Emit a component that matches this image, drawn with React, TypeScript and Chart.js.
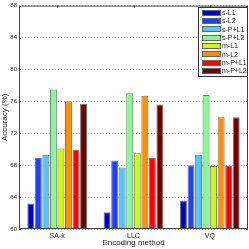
import React, { useEffect, useRef } from "react";
import { Chart, registerables } from "chart.js";

Chart.register(...registerables);

const categories = ["SA-k", "LLC", "VQ"];
const seriesNames = ["s-L1", "s-L2", "s-P+L1", "s-P+L2", "m-L1", "m-L2", "m-P+L1", "m-P+L2"];
const seriesColors = ["#0000c8", "#2040ff", "#50c8ff", "#80ff90", "#c8ff00", "#ff9000", "#ff0000", "#700000"];
const sL1 = [63.2, 62.1, 63.5];
const sL2 = [68.9, 68.6, 68.0];
const sPL1 = [69.3, 67.7, 69.3];
const sPL2 = [77.5, 77.0, 76.8];
const mL1 = [70.1, 69.5, 67.9];
const mL2 = [76.0, 76.7, 74.0];
const mPL1 = [69.9, 68.9, 67.9];
const mPL2 = [75.7, 75.6, 74.0];
const seriesValues = [sL1, sL2, sPL1, sPL2, mL1, mL2, mPL1, mPL2];
const yTicks = [60, 64, 68, 72, 76, 80, 84, 88];

const FONT = "'Liberation Sans', Arial, sans-serif";

const boxPlugin = {
  id: "boxPlugin",
  afterDraw(chart: any) {
    const { ctx, chartArea: a, scales } = chart;
    ctx.save();
    ctx.strokeStyle = "#444";
    ctx.lineWidth = 1;
    ctx.strokeRect(a.left + 0.5, a.top + 0.5, a.right - a.left - 1, a.bottom - a.top - 1);
    const ys = scales.y;
    yTicks.forEach((v) => {
      const y = Math.round(ys.getPixelForValue(v)) + 0.5;
      ctx.beginPath();
      ctx.moveTo(a.left, y);
      ctx.lineTo(a.left + 2, y);
      ctx.moveTo(a.right, y);
      ctx.lineTo(a.right - 2, y);
      ctx.stroke();
    });
    const xs = scales.x;
    categories.forEach((_, i) => {
      const x = Math.round(xs.getPixelForValue(i)) + 0.5;
      ctx.beginPath();
      ctx.moveTo(x, a.top);
      ctx.lineTo(x, a.top + 2);
      ctx.moveTo(x, a.bottom);
      ctx.lineTo(x, a.bottom - 2);
      ctx.stroke();
    });
    // legend
    const lx = 198, ly = 7, lw = 50, lh = 70;
    ctx.fillStyle = "#fff";
    ctx.fillRect(lx, ly, lw, lh);
    ctx.strokeStyle = "#333";
    ctx.strokeRect(lx + 0.5, ly + 0.5, lw - 1, lh - 1);
    ctx.font = "7px " + FONT;
    ctx.textBaseline = "middle";
    ctx.textAlign = "left";
    seriesNames.forEach((name, i) => {
      const cy = ly + 5.5 + i * 8.35;
      ctx.fillStyle = seriesColors[i];
      ctx.fillRect(202, Math.round(cy - 3), 19, 6);
      ctx.strokeStyle = "#666";
      ctx.strokeRect(202.5, Math.round(cy - 3) + 0.5, 18, 5);
      ctx.fillStyle = "#222";
      ctx.fillText(name, 222, cy + 0.5);
    });
    ctx.restore();
  },
};

export default function App() {
  const ref = useRef<HTMLCanvasElement>(null);
  useEffect(() => {
    document.body.style.margin = "0";
    const chart = new Chart(ref.current!, {
      type: "bar",
      data: {
        labels: categories,
        datasets: seriesNames.map((name, i) => ({
          label: name,
          data: seriesValues[i],
          backgroundColor: seriesColors[i],
          borderColor: "#777",
          borderWidth: 1,
          barPercentage: 0.92,
          categoryPercentage: 0.79,
        })),
      },
      options: {
        animation: false,
        responsive: false,
        maintainAspectRatio: false,
        layout: { padding: { top: 4, right: 1, left: 0, bottom: 0 } },
        plugins: { legend: { display: false }, tooltip: { enabled: false } },
        scales: {
          x: {
            grid: { display: false, drawTicks: false, tickLength: 0 },
            border: { display: false },
            ticks: { font: { size: 7, family: FONT }, color: "#222", padding: 3 },
            title: { display: true, text: "Encoding method", font: { size: 8, family: FONT }, color: "#222", padding: { top: 1, bottom: 1 } },
            afterFit: (s: any) => { s.height = 20; },
          },
          y: {
            min: 60,
            max: 88,
            afterBuildTicks: (s: any) => { s.ticks = yTicks.map((v) => ({ value: v })); },
            grid: { color: "#bbb", borderDash: [1, 2], drawTicks: false, tickLength: 0 } as any,
            border: { display: false, dash: [1, 2] },
            ticks: { font: { size: 6, family: FONT }, color: "#222", padding: 2 },
            title: { display: true, text: "Accuracy (%)", font: { size: 8, family: FONT }, color: "#222", padding: 0 },
            afterFit: (s: any) => { s.width = 19; },
          },
        },
      },
      plugins: [boxPlugin],
    });
    return () => chart.destroy();
  }, []);
  return <canvas ref={ref} width={249} height={249} style={{ display: "block" }} />;
}
